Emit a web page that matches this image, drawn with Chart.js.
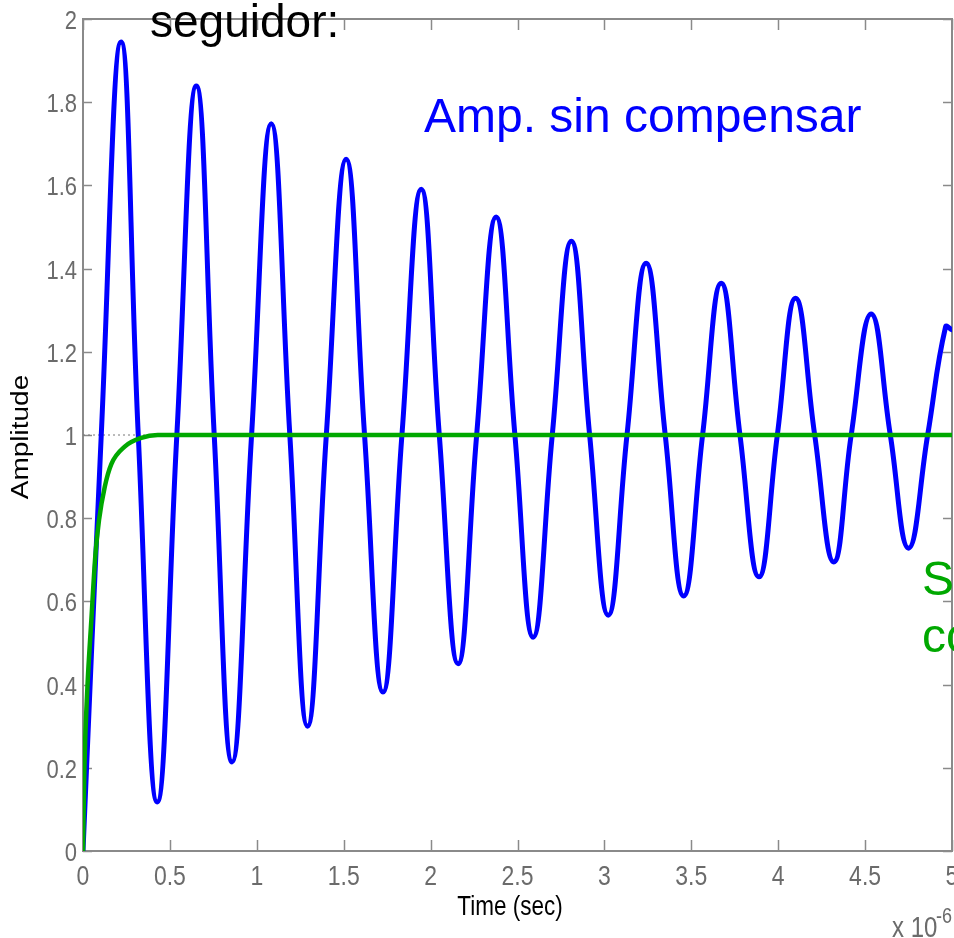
<!DOCTYPE html>
<html>
<head>
<meta charset="utf-8">
<script src="https://cdn.jsdelivr.net/npm/chart.js@4.4.1/dist/chart.umd.min.js"></script>
<style>
  html, body { margin: 0; padding: 0; background: #fff; }
  canvas { display: block; }
</style>
</head>
<body>
<canvas id="step_chart" width="954" height="938"></canvas>
<script>
// tick labels
const xTickLabels = ['0', '0.5', '1', '1.5', '2', '2.5', '3', '3.5', '4', '4.5', '5'];
const yTickLabels = ['0', '0.2', '0.4', '0.6', '0.8', '1', '1.2', '1.4', '1.6', '1.8', '2'];

// amplificador sin compensar (azul): picos, valles y cruces por 1
const blueTime = [0, 0.105, 0.219, 0.318, 0.427, 0.54, 0.652, 0.755, 0.858, 0.97, 1.083, 1.19, 1.292,
  1.40, 1.514, 1.62, 1.726, 1.835, 1.946, 2.05, 2.158, 2.265, 2.377, 2.485, 2.59, 2.70, 2.81, 2.915,
  3.022, 3.13, 3.24, 3.35, 3.456, 3.565, 3.672, 3.78, 3.889, 3.995, 4.10, 4.21, 4.32, 4.42, 4.535,
  4.645, 4.75, 4.86, 4.963, 5.0];
const blueAmp = [0, 1, 1.945, 1, 0.118, 1, 1.839, 1, 0.214, 1, 1.748, 1, 0.30,
  1, 1.663, 1, 0.382, 1, 1.591, 1, 0.45, 1, 1.524, 1, 0.514, 1, 1.466, 1,
  0.567, 1, 1.413, 1, 0.613, 1, 1.365, 1, 0.659, 1, 1.329, 1, 0.695, 1, 1.291,
  1, 0.728, 1, 1.26, 1.253];

// sistema compensado (verde)
const greenTime = [0, 0.008, 0.025, 0.048, 0.071, 0.092, 0.125, 0.163, 0.24, 0.335, 0.43, 5];
const greenAmp = [0, 0.2, 0.39, 0.555, 0.71, 0.795, 0.875, 0.93, 0.972, 0.993, 1, 1];

// linea punteada de valor final
const finalTime = [0, 5];
const finalAmp = [1, 1];

const toPoints = (xs, ys) => xs.map((x, i) => ({ x: x, y: ys[i] }));

const axisGray = '#8a8a8a';
const labelGray = '#6b6b6b';
const sans = "'Liberation Sans', Arial, sans-serif";
const stretch = 1.21; // el texto de los ejes esta estirado en vertical

// marco tipo matlab con ticks hacia adentro y etiquetas
const boxPlugin = {
  id: 'box',
  beforeDatasetsDraw(chart) {
    const ctx = chart.ctx;
    const a = chart.chartArea;
    const xs = chart.scales.x, ys = chart.scales.y;
    ctx.save();
    ctx.strokeStyle = axisGray;
    ctx.lineWidth = 1.5;
    ctx.beginPath();
    xs.ticks.forEach(t => {
      const px = Math.round(xs.getPixelForValue(t.value)) + 0.5;
      ctx.moveTo(px, a.bottom); ctx.lineTo(px, a.bottom - 11);
      ctx.moveTo(px, a.top); ctx.lineTo(px, a.top + 11);
    });
    ys.ticks.forEach(t => {
      const py = Math.round(ys.getPixelForValue(t.value)) + 0.5;
      ctx.moveTo(a.left, py); ctx.lineTo(a.left + 9, py);
      ctx.moveTo(a.right, py); ctx.lineTo(a.right - 9, py);
    });
    ctx.stroke();
    ctx.lineWidth = 2;
    ctx.strokeRect(a.left, a.top, a.right - a.left, a.bottom - a.top);

    // etiquetas de los ticks
    ctx.scale(1, stretch);
    ctx.fillStyle = labelGray;
    ctx.textBaseline = 'alphabetic';
    ctx.font = '23px ' + sans;
    ctx.textAlign = 'center';
    xs.ticks.forEach((t, i) => {
      ctx.fillText(xTickLabels[i], xs.getPixelForValue(t.value), 885 / stretch);
    });
    ctx.font = '22px ' + sans;
    ctx.textAlign = 'right';
    ys.ticks.forEach((t, i) => {
      ctx.fillText(yTickLabels[i], a.left - 6, (ys.getPixelForValue(t.value) + 10) / stretch);
    });
    ctx.restore();
  }
};

// textos: titulos de ejes y anotaciones
const textPlugin = {
  id: 'texts',
  afterDraw(chart) {
    const ctx = chart.ctx;
    ctx.save();
    ctx.textBaseline = 'alphabetic';

    // Amplitude (rotado)
    ctx.save();
    ctx.translate(22, 437);
    ctx.rotate(-Math.PI / 2);
    ctx.scale(1, 1 / stretch);
    ctx.fillStyle = '#000';
    ctx.font = '28px ' + sans;
    ctx.textAlign = 'center';
    ctx.textBaseline = 'middle';
    ctx.fillText('Amplitude', 0, 0);
    ctx.restore();

    // Time (sec) y exponente
    ctx.save();
    ctx.scale(1, stretch);
    ctx.fillStyle = '#000';
    ctx.font = '22.5px ' + sans;
    ctx.textAlign = 'center';
    ctx.fillText('Time (sec)', 510, 915 / stretch);
    ctx.fillStyle = labelGray;
    ctx.textAlign = 'left';
    ctx.font = '24px ' + sans;
    ctx.fillText('x 10', 892, 937 / stretch);
    ctx.font = '18px ' + sans;
    ctx.fillText('-6', 936, 923 / stretch);
    ctx.restore();

    // anotaciones
    ctx.textAlign = 'left';
    ctx.font = '46px ' + sans;
    ctx.fillStyle = '#000';
    ctx.fillText('seguidor:', 150, 37);
    ctx.font = '48px ' + sans;
    ctx.fillStyle = '#0000ff';
    ctx.fillText('Amp. sin compensar', 424, 132);
    ctx.fillStyle = '#00a800';
    ctx.fillText('S', 922, 595);
    ctx.fillText('co', 922, 652);
    ctx.restore();
  }
};

const ctx = document.getElementById('step_chart');
new Chart(ctx, {
  type: 'line',
  data: {
    datasets: [
      {
        label: 'Compensado',
        data: toPoints(greenTime, greenAmp),
        borderColor: '#00a800',
        borderWidth: 4.5,
        cubicInterpolationMode: 'monotone',
        borderJoinStyle: 'round',
        borderCapStyle: 'round',
        pointRadius: 0
      },
      {
        label: 'Amp. sin compensar',
        data: toPoints(blueTime, blueAmp),
        borderColor: '#0000ff',
        borderWidth: 5,
        tension: 0.45,
        borderJoinStyle: 'round',
        borderCapStyle: 'round',
        pointRadius: 0
      },
      {
        label: 'Final',
        data: toPoints(finalTime, finalAmp),
        borderColor: '#777777',
        borderWidth: 1,
        borderDash: [2, 3],
        pointRadius: 0
      }
    ]
  },
  options: {
    responsive: false,
    animation: false,
    devicePixelRatio: 1,
    layout: {
      autoPadding: false,
      padding: { top: 19, right: 2, left: 0, bottom: 0 }
    },
    plugins: {
      legend: { display: false },
      tooltip: { enabled: false }
    },
    scales: {
      x: {
        type: 'linear',
        min: 0,
        max: 5,
        afterBuildTicks: s => { s.ticks = xTickLabels.map(v => ({ value: Number(v) })); },
        afterFit: s => { s.height = 87; s.paddingLeft = 0; s.paddingRight = 0; },
        grid: { display: false, drawTicks: false },
        border: { display: false },
        ticks: { display: false }
      },
      y: {
        min: 0,
        max: 2,
        afterBuildTicks: s => { s.ticks = yTickLabels.map(v => ({ value: Number(v) })); },
        afterFit: s => { s.width = 83; s.paddingTop = 0; s.paddingBottom = 0; },
        grid: { display: false, drawTicks: false },
        border: { display: false },
        ticks: { display: false }
      }
    }
  },
  plugins: [boxPlugin, textPlugin]
});
</script>
</body>
</html>
